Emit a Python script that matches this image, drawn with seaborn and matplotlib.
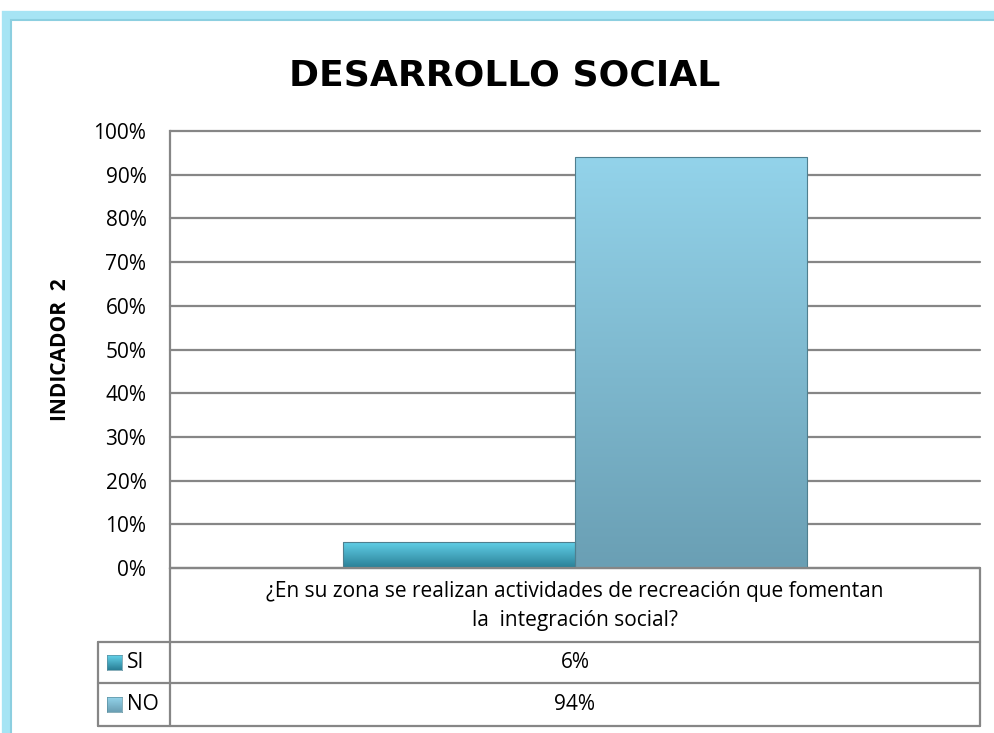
import numpy as np
import pandas as pd
import matplotlib
matplotlib.use("Agg")
import matplotlib.pyplot as plt
from matplotlib.patches import Rectangle
from matplotlib.lines import Line2D
from matplotlib.colors import LinearSegmentedColormap
import seaborn as sns

# data
question = "¿En su zona se realizan actividades de recreación que fomentan\nla  integración social?"
series = ["SI", "NO"]
values = [6, 94]
value_labels = ["6%", "94%"]
yticks = list(range(0, 101, 10))

title = "DESARROLLO SOCIAL"
ylabel = "INDICADOR  2"

# colours (top, bottom) for the gradient fill of each bar
grad = {"SI": ("#63d2ea", "#2a7f96"), "NO": ("#93d3ea", "#6a9fb4")}
palette = {"SI": "#3a9fb8", "NO": "#80bdd3"}

sns.set_style("white")
plt.rcParams['font.family'] = ['Open Sans', 'DejaVu Sans']
plt.rcParams['text.color'] = 'black'
plt.rcParams['ytick.color'] = 'black'
plt.rcParams['axes.labelcolor'] = 'black'

W, H = 995, 733
fig = plt.figure(figsize=(W / 100, H / 100), dpi=100)

def fx(px):
    return px / W

def fy(py):
    return 1 - py / H

# plot area in pixels
L, R, T, B = 170, 980, 131, 568
ax = fig.add_axes([fx(L), fy(B), fx(R) - fx(L), fy(T) - fy(B)])

df = pd.DataFrame({"question": [question] * len(series), "serie": series, "value": values})
sns.barplot(data=df, x="question", y="value", hue="serie", palette=palette,
            width=0.573, dodge=True, legend=False, ax=ax, edgecolor="none")

# gradient fill clipped to each bar
for patch, s in zip(ax.patches, series):
    x0, y0 = patch.get_x(), patch.get_y()
    w, h = patch.get_width(), patch.get_height()
    cmap = LinearSegmentedColormap.from_list(s, [grad[s][1], grad[s][0]])
    g = np.linspace(0, 1, 256).reshape(-1, 1)
    im = ax.imshow(g, cmap=cmap, aspect="auto", origin="lower",
                   extent=[x0, x0 + w, y0, y0 + h], zorder=patch.get_zorder())
    im.set_clip_path(patch)
    patch.set_facecolor("none")
    patch.set_edgecolor("#4f7f8f")
    patch.set_linewidth(0.8)
    patch.set_zorder(patch.get_zorder() + 0.1)

ax.set_xlim(-0.5, 0.5)
ax.set_ylim(0, 100)
ax.set_yticks(yticks)
ax.set_yticklabels([f"{t}%" for t in yticks], fontsize=15)
ax.tick_params(axis="y", length=0, pad=17)
ax.set_xticks([])
ax.set_xlabel("")
ax.set_ylabel(ylabel, fontsize=15, fontweight="bold", labelpad=16)
ax.yaxis.grid(True, color="#868686", linewidth=1.6)
for gl in ax.get_ygridlines():
    gl.set_clip_on(False)
ax.set_axisbelow(True)
for side in ["top", "right", "bottom"]:
    ax.spines[side].set_visible(False)
ax.spines["left"].set_color("#868686")
ax.spines["left"].set_linewidth(1.6)

# title
fig.text(fx(505), fy(76), title, fontsize=26, fontweight="bold", ha="center", va="center",
         family=["DejaVu Sans"])

# data table below the axes
gc = "#868686"
lw = 1.6
row1, row2, row3 = 642, 683, 726
left_col = 98
lines = [
    ((L, R), (B, B)),
    ((L, L), (B, row3)),
    ((R, R), (B, row3)),
    ((left_col, R), (row1, row1)),
    ((left_col, R), (row2, row2)),
    ((left_col, R), (row3, row3)),
    ((left_col, left_col), (row1, row3)),
]
for (xs, ys) in lines:
    fig.add_artist(Line2D([fx(xs[0]), fx(xs[1])], [fy(ys[0]), fy(ys[1])],
                          color=gc, linewidth=lw, transform=fig.transFigure))

cx = (L + R) / 2
fig.text(fx(cx), fy(606), question, fontsize=15, ha="center", va="center",
         linespacing=1.55)
rows = [(row1, row2), (row2, row3)]
for s, lab, (r0, r1) in zip(series, value_labels, rows):
    ym = (r0 + r1) / 2
    fig.text(fx(cx), fy(ym), lab, fontsize=15, ha="center", va="center")
    fig.text(fx(127), fy(ym), s, fontsize=15, ha="left", va="center")
    # small legend key with the same gradient as the bar
    kax = fig.add_axes([fx(107), fy(ym + 7.5), fx(15), 15 / H])
    kcmap = LinearSegmentedColormap.from_list("k" + s, [grad[s][1], grad[s][0]])
    kax.imshow(np.linspace(0, 1, 32).reshape(-1, 1), cmap=kcmap, aspect="auto", origin="lower")
    kax.set_xticks([])
    kax.set_yticks([])
    for sp in kax.spines.values():
        sp.set_color("#5a8fa0")
        sp.set_linewidth(0.5)

# light blue frame
fig.add_artist(Rectangle((fx(6), fy(H + 20)), 1.2, (H + 5) / H, transform=fig.transFigure,
                         facecolor="none", edgecolor="#a6e4f4", linewidth=6))
fig.add_artist(Rectangle((fx(11), fy(H + 20)), 1.2, (H + 0) / H, transform=fig.transFigure,
                         facecolor="none", edgecolor="#8ccfe0", linewidth=1.5))

fig.savefig("out.png", dpi=100, facecolor="white")
